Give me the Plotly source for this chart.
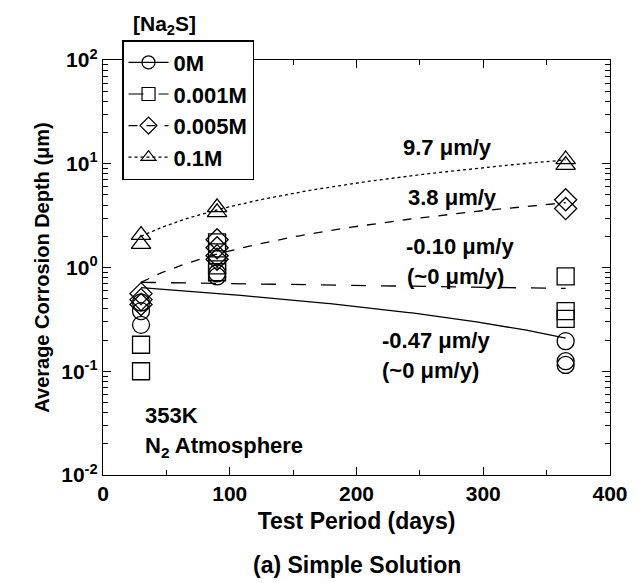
import numpy as np
import plotly.graph_objects as go

# ---- data ----
series_names = ["0M", "0.001M", "0.005M", "0.1M"]
symbols = ["circle-open", "square-open", "diamond-open", "triangle-up-open"]
dashes = ["solid", "longdash", "dash", "dot"]

x_0M = [30, 30, 30, 90, 90, 365, 365, 365]
y_0M = [0.46, 0.38, 0.28, 0.82, 0.88, 0.195, 0.125, 0.115]
x_0001M = [30, 30, 90, 90, 90, 90, 365, 365, 365]
y_0001M = [0.18, 0.10, 1.75, 1.4, 1.05, 0.9, 0.82, 0.38, 0.32]
x_0005M = [30, 30, 30, 90, 90, 90, 90, 365, 365]
y_0005M = [0.56, 0.49, 0.44, 1.85, 1.55, 1.3, 1.2, 4.5, 3.7]
x_01M = [30, 30, 90, 90, 365, 365]
y_01M = [2.05, 1.68, 3.8, 3.4, 11.0, 9.7]

xs = [x_0M, x_0001M, x_0005M, x_01M]
ys = [y_0M, y_0001M, y_0005M, y_01M]

# linear fits (rate in um/year, value at start day)
fit_rates = [-0.47, -0.10, 3.8, 9.7]
fit_start_values = [0.64, 0.72, 0.72, 2.0]
fit_start_day = 30
fit_end_day = 365

FONT = "Liberation Sans"
fig = go.Figure()

t = np.linspace(fit_start_day, fit_end_day, 120)
for i in range(4):
    yfit = fit_start_values[i] + fit_rates[i] * (t - fit_start_day) / 365.0
    fig.add_trace(go.Scatter(x=t, y=yfit, mode="lines",
                             line=dict(color="black", width=1.3, dash=dashes[i]),
                             showlegend=False, hoverinfo="skip"))

for i in range(4):
    fig.add_trace(go.Scatter(x=xs[i], y=ys[i], mode="markers",
                             marker=dict(symbol=symbols[i], size=17, color="black",
                                         line=dict(width=1.3, color="black")),
                             showlegend=False))

for i in range(4):
    fig.add_trace(go.Scatter(x=[None], y=[None], mode="lines+markers", name=series_names[i],
                             marker=dict(symbol=symbols[i], size=13, color="black",
                                         line=dict(width=1.2, color="black")),
                             line=dict(color="black", width=1.2, dash=dashes[i])))

# rate annotations (positions in data coords, y in log10)
ann = [
    dict(x=272, y=1.152, text="<b>9.7 μm/y</b>"),
    dict(x=276, y=0.670, text="<b>3.8 μm/y</b>"),
    dict(x=282, y=0.198, text="<b>-0.10 μm/y</b>"),
    dict(x=278, y=-0.090, text="<b>(~0 μm/y)</b>"),
    dict(x=263, y=-0.700, text="<b>-0.47 μm/y</b>"),
    dict(x=258, y=-0.990, text="<b>(~0 μm/y)</b>"),
]
for a in ann:
    fig.add_annotation(x=a["x"], y=a["y"], xref="x", yref="y", text=a["text"],
                       showarrow=False, font=dict(family=FONT, size=22, color="black"))

fig.add_annotation(x=31.5, y=-1.423, xref="x", yref="y", text="<b>353K</b>", xanchor="left",
                   showarrow=False, font=dict(family=FONT, size=22, color="black"))
fig.add_annotation(x=31.5, y=-1.73, xref="x", yref="y", text="<b>N<sub>2</sub> Atmosphere</b>",
                   xanchor="left", showarrow=False, font=dict(family=FONT, size=22, color="black"))

# legend title above box
fig.add_annotation(x=0.057, y=1.118, xref="paper", yref="paper", yanchor="top", xanchor="left",
                   text="<b>[Na<sub>2</sub>S]</b>", showarrow=False, borderpad=0,
                   font=dict(family=FONT, size=21, color="black"))

# caption
fig.add_annotation(x=0.5, y=-0.217, xref="paper", yref="paper", yanchor="middle",
                   text="<b>(a) Simple Solution</b>", showarrow=False,
                   font=dict(family=FONT, size=23, color="black"))

ytick_vals = [0.01, 0.1, 1, 10, 100]
ytick_text = ["<b>10<sup>-2</sup></b>", "<b>10<sup>-1</sup></b>", "<b>10<sup>0</sup></b>",
              "<b>10<sup>1</sup></b>", "<b>10<sup>2</sup></b>"]
xtick_vals = [0, 100, 200, 300, 400]
xtick_text = ["<b>%d</b>" % v for v in xtick_vals]

fig.update_layout(
    width=634, height=575,
    margin=dict(l=95, r=32, t=52, b=108),
    paper_bgcolor="white", plot_bgcolor="white",
    font=dict(family=FONT, size=21, color="black"),
    legend=dict(x=0.0375, y=1.048, xanchor="left", yanchor="top",
                bordercolor="black", borderwidth=1.5, bgcolor="white",
                font=dict(family=FONT, size=22, color="black", weight="bold"),
                tracegroupgap=0, itemwidth=40),
    xaxis=dict(range=[0, 400], tickvals=xtick_vals, ticktext=xtick_text,
               tickfont=dict(family=FONT, size=21),
               ticks="inside", ticklen=8, tickwidth=1, tickcolor="black",
               showline=True, linecolor="black", linewidth=1.3, mirror="ticks",
               showgrid=False, zeroline=False,
               minor=dict(ticks="inside", ticklen=5, dtick=50, tickcolor="black", showgrid=False),
               title=dict(text="<b>Test Period (days)</b>", font=dict(family=FONT, size=23), standoff=8)),
    yaxis=dict(type="log", range=[-2, 2], tickvals=ytick_vals, ticktext=ytick_text,
               tickfont=dict(family=FONT, size=21),
               ticks="inside", ticklen=8, tickwidth=1, tickcolor="black",
               showline=True, linecolor="black", linewidth=1.3, mirror="ticks",
               showgrid=False, zeroline=False,
               minor=dict(ticks="inside", ticklen=5, dtick="D1", tickcolor="black", showgrid=False),
               title=dict(text="<b>Average Corrosion Depth (μm)</b>", font=dict(family=FONT, size=20), standoff=6)),
)

fig.write_html("out.html")
